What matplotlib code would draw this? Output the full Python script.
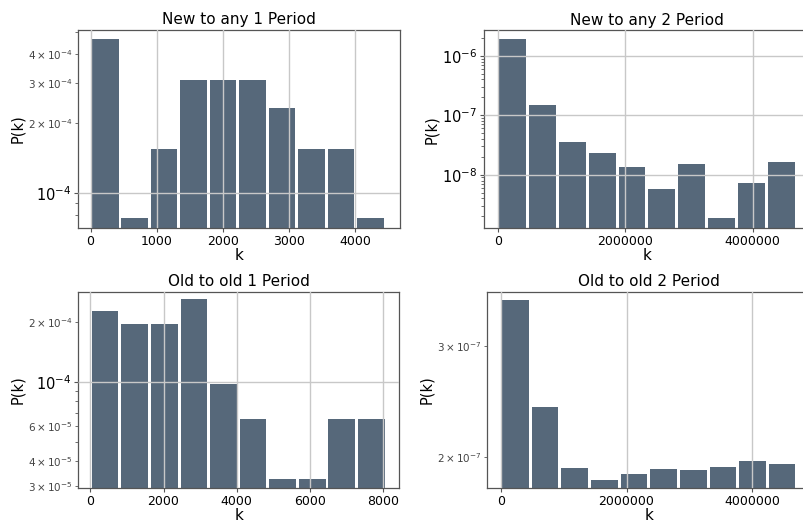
import matplotlib
matplotlib.use("Agg")
import matplotlib.pyplot as plt
from matplotlib.ticker import MultipleLocator, LogLocator, FuncFormatter, NullFormatter

# --- data (bin edges in k, bar heights P(k)) ---
edges_new1 = [0, 445, 890, 1335, 1780, 2225, 2670, 3115, 3560, 4005, 4450]
p_new1 = [4.64e-4, 7.75e-5, 1.55e-4, 3.10e-4, 3.10e-4, 3.10e-4, 2.33e-4, 1.55e-4, 1.55e-4, 7.75e-5]

edges_new2 = [0, 468000, 936000, 1404000, 1872000, 2340000, 2808000, 3276000, 3744000, 4212000, 4680000]
p_new2 = [1.92e-6, 1.51e-7, 3.52e-8, 2.32e-8, 1.35e-8, 5.74e-9, 1.50e-8, 1.84e-9, 7.24e-9, 1.66e-8]

edges_old1 = [0, 808, 1616, 2424, 3232, 4040, 4848, 5656, 6464, 7272, 8080]
p_old1 = [2.28e-4, 1.95e-4, 1.95e-4, 2.61e-4, 9.77e-5, 6.51e-5, 3.26e-5, 3.26e-5, 6.51e-5, 6.51e-5]

edges_old2 = [0, 471000, 942000, 1413000, 1884000, 2355000, 2826000, 3297000, 3768000, 4239000, 4710000]
p_old2 = [3.56e-7, 2.40e-7, 1.916e-7, 1.837e-7, 1.877e-7, 1.909e-7, 1.902e-7, 1.923e-7, 1.971e-7, 1.945e-7]

titles = ["New to any 1 Period", "New to any 2 Period", "Old to old 1 Period", "Old to old 2 Period"]

BAR = "#56687a"
SPINE = "#555555"
GRID = "#c8c8c8"


def minor_fmt(labeled):
    # only some minor ticks carry a label, as in the reference
    def f(v, pos):
        for m in labeled:
            if abs(v - m) / m < 1e-6:
                mant, ex = ("%.0e" % m).split("e")
                return r"$\mathdefault{%s\times10^{%d}}$" % (mant, int(ex))
        return ""
    return FuncFormatter(f)


def panel(fig, rect, edges, heights, title, xlim, ylim, xstep, minor_labels):
    ax = fig.add_axes(rect)
    ax.hist(edges[:-1], bins=edges, weights=heights, rwidth=0.9, color=BAR, log=True, zorder=1)
    ax.set_xlim(*xlim)
    ax.set_ylim(*ylim)
    ax.xaxis.set_major_locator(MultipleLocator(xstep))
    ax.xaxis.set_major_formatter(FuncFormatter(lambda v, p: "%d" % v))
    ax.yaxis.set_minor_locator(LogLocator(base=10, subs=range(2, 10), numticks=20))
    ax.yaxis.set_minor_formatter(minor_fmt(minor_labels) if minor_labels else NullFormatter())
    ax.grid(True, which="major", color=GRID, linewidth=1.0, zorder=3)
    ax.set_axisbelow(False)
    for s in ax.spines.values():
        s.set_color(SPINE)
        s.set_linewidth(0.9)
    ax.tick_params(axis="x", which="major", labelsize=9, length=3, color=SPINE, pad=2)
    ax.tick_params(axis="y", which="major", labelsize=10.5, length=3, color=SPINE, pad=2)
    ax.tick_params(axis="y", which="minor", labelsize=7.5, length=2, color=SPINE, pad=2,
                   labelcolor="#444444")
    ax.set_title(title, fontsize=11, pad=4)
    ax.set_xlabel("k", fontsize=11, labelpad=0)
    ax.set_ylabel("P(k)", fontsize=10.5, labelpad=2)
    return ax


fig = plt.figure(figsize=(8.04, 5.25), dpi=100)

panel(fig, [0.097, 0.566, 0.4005, 0.377], edges_new1, p_new1, titles[0],
      (-190, 4675), (7.05e-5, 5.09e-4), 1000, [2e-4, 3e-4, 4e-4])
panel(fig, [0.6024, 0.566, 0.4043, 0.376], edges_new2, p_new2, titles[1],
      (-210000, 4890000), (1.28e-9, 2.67e-6), 2000000, [])
panel(fig, [0.097, 0.0699, 0.3996, 0.3745], edges_old1, p_old1, titles[2],
      (-336, 8437), (2.93e-5, 2.85e-4), 2000, [2e-4, 3e-5, 4e-5, 6e-5])
panel(fig, [0.6061, 0.0699, 0.4016, 0.3745], edges_old2, p_old2, titles[3],
      (-213000, 4920000), (1.78e-7, 3.67e-7), 2000000, [2e-7, 3e-7])

fig.savefig("out.png", dpi=100)
